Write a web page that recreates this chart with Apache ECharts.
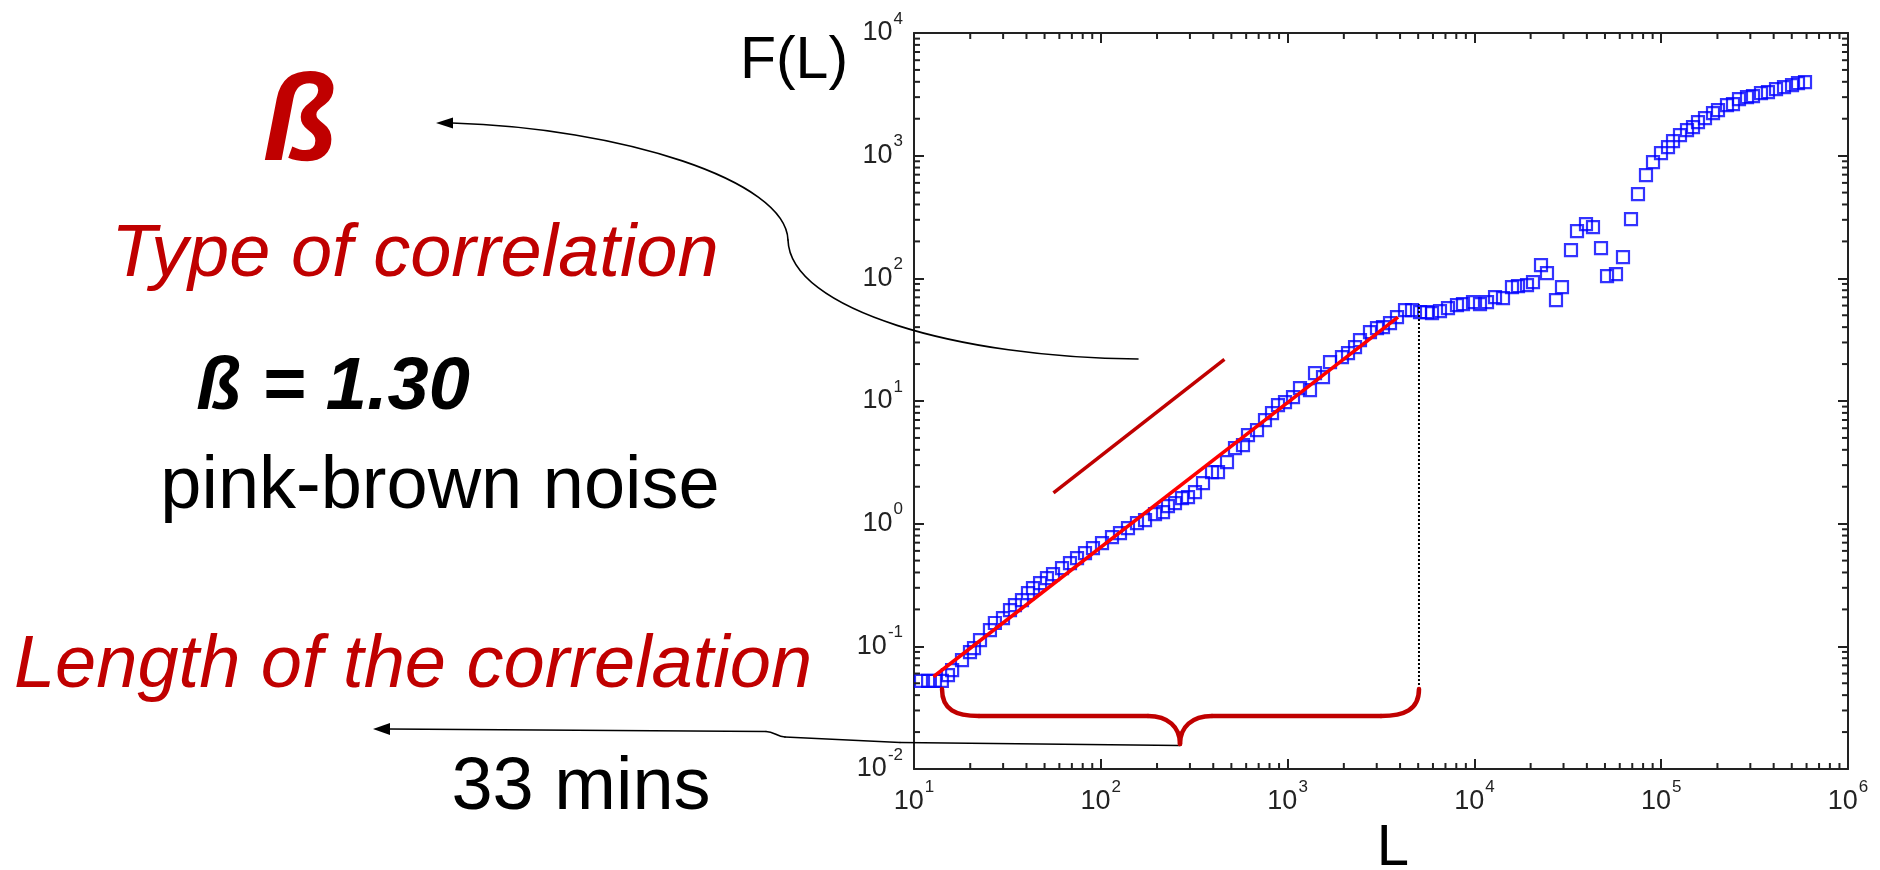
<!DOCTYPE html>
<html><head><meta charset="utf-8">
<script src="https://cdn.jsdelivr.net/npm/echarts@6/dist/echarts.min.js"></script>
<style>html,body{margin:0;padding:0;background:#fff}#c{width:1880px;height:870px}</style>
</head><body><div id="c"></div>
<script>
// ---- data ----
const lengthL = [10.9, 11.9, 12.95, 14.1, 15.2, 16.0, 18.07, 19.94, 20.95, 22.56,
  25.5, 27.1, 29.95, 32.65, 34.7, 37.85, 40.75, 43.35, 47.3, 51.5,
  55.5, 62.0, 68.4, 74.6, 82.3, 90.8, 101.5, 114.8, 126.7, 139.8,
  156.2, 172.5, 195.1, 215.3, 228.9, 249.6, 272.1, 293.0, 319.3, 352.5,
  393.9, 424.1, 473.8, 522.9, 577, 613.8, 685.9, 756.8, 825.1, 888.4,
  968.5, 1069, 1165, 1318, 1402, 1547, 1687, 1955, 2106, 2296,
  2441, 2761, 3010, 3241, 3534, 3852, 4252, 4634, 5115, 5575,
  5931, 6543, 7222, 8067, 8688, 9829, 10715, 11683, 12895, 14227,
  15893, 17115, 19125, 20591, 22727, 24466, 27340, 29436, 32890, 35420,
  39570, 43140, 47620, 51290, 57280, 62440, 68920, 75120, 82900, 90390,
  99750, 108750, 115680, 126070, 137450, 148000, 157400, 171600, 189400, 201400,
  225000, 242300, 260900, 288000, 310000, 342100, 372900, 411800, 454400, 501600,
  539900, 588700];
const fluctF = [0.0522, 0.0522, 0.0522, 0.0522, 0.0583, 0.0641, 0.0773, 0.0898, 0.0968, 0.1125,
  0.1358, 0.155, 0.170, 0.1976, 0.217, 0.2384, 0.272, 0.2987, 0.328, 0.360,
  0.388, 0.4346, 0.4775, 0.5244, 0.5759, 0.6327, 0.695, 0.7776, 0.8384, 0.921,
  1.011, 1.070, 1.197, 1.243, 1.391, 1.472, 1.617, 1.648, 1.809, 2.143,
  2.634, 2.634, 3.177, 4.132, 4.371, 5.272, 5.792, 6.987, 7.968, 9.26,
  9.795, 10.76, 12.74, 12.27, 16.88, 15.66, 20.75, 22.79, 24.57, 27.5,
  31.36, 36.43, 39.27, 40.02, 43.14, 48.29, 55.07, 55.07, 53.04, 53.04,
  52.05, 54.04, 57.16, 60.47, 61.61, 63.97, 61.61, 63.97, 70.29, 68.98,
  84.8, 86.4, 88.0, 93.1, 128.1, 110.3, 66.4, 84.8, 169.8, 242.5,
  276.5, 261.4, 176.3, 104.2, 108.2, 148.9, 303.7, 485.7, 693.6, 885.3,
  1048, 1173, 1313, 1469, 1614, 1707, 1875, 2021, 2220, 2349,
  2579, 2628, 2887, 2998, 3053, 3232, 3292, 3483, 3617, 3754,
  3898, 3972];
const fitLineL = [12.7, 3900];
const fitLineF = [0.0565, 48.3];
const slopeGuideL = [55.8, 459];
const slopeGuideF = [1.78, 21.8];
const crossoverL = [5050, 5050];
const crossoverF = [0.0449, 61.6];
const xTickExps = ['1', '2', '3', '4', '5', '6'];
const yTickExps = ['-2', '-1', '0', '1', '2', '3', '4'];
const minorMult = [2, 3, 4, 5, 6, 7, 8, 9];
const xDecades = [10, 100, 1000, 10000, 100000];
const yDecades = [0.01, 0.1, 1, 10, 100, 1000];

// ---- chart ----
const X_MIN = 10, X_MAX = 1e6, Y_MIN = 0.01, Y_MAX = 1e4;
const AX = '#222';
const FONT = '"Liberation Sans", Arial, Helvetica, sans-serif';
const xMinor = xDecades.flatMap(d => minorMult.map(m => m * d));
const yMinor = yDecades.flatMap(d => minorMult.map(m => m * d));

const richLbl = {
  b: { fontSize: 27, fontFamily: FONT, color: AX, lineHeight: 30 },
  s: { fontSize: 17, fontFamily: FONT, color: AX, padding: [0, 0, 28, 1] }
};
function axisCommon(extra) {
  return Object.assign({
    type: 'log', logBase: 10,
    axisLine: { show: true, onZero: false, lineStyle: { color: AX, width: 2 } },
    axisTick: { show: true, inside: true, length: 10, lineStyle: { color: AX, width: 2 } },
    minorTick: { show: false },
    splitLine: { show: false }
  }, extra);
}
function minorTicks(values, isX) {
  return {
    type: 'custom', xAxisIndex: 0, yAxisIndex: 0, silent: true, clip: false, z: 6,
    data: values.map(v => isX ? [v, 1] : [100, v]),
    renderItem: function (params, api) {
      const len = 6, st = { stroke: AX, lineWidth: 2 };
      if (isX) {
        const v = api.value(0);
        const b = api.coord([v, Y_MIN]), t = api.coord([v, Y_MAX]);
        return { type: 'group', children: [
          { type: 'line', shape: { x1: b[0], y1: b[1], x2: b[0], y2: b[1] - len }, style: st },
          { type: 'line', shape: { x1: t[0], y1: t[1], x2: t[0], y2: t[1] + len }, style: st }
        ] };
      }
      const v = api.value(1);
      const l = api.coord([X_MIN, v]), r = api.coord([X_MAX, v]);
      return { type: 'group', children: [
        { type: 'line', shape: { x1: l[0], y1: l[1], x2: l[0] + len, y2: l[1] }, style: st },
        { type: 'line', shape: { x1: r[0], y1: r[1], x2: r[0] - len, y2: r[1] }, style: st }
      ] };
    }
  };
}
function txt(text, x, y, size, color, style, weight) {
  return { type: 'text', x: x, y: y, silent: true, z: 100,
    style: { text: text, fontSize: size, fontFamily: FONT, fontStyle: style || 'normal',
      fontWeight: weight || 'normal', fill: color, align: 'center', verticalAlign: 'middle' } };
}
function bez(p0, c1, c2, p1, stroke, w) {
  return { type: 'bezierCurve', silent: true, z: 90,
    shape: { x1: p0[0], y1: p0[1], cpx1: c1[0], cpy1: c1[1], cpx2: c2[0], cpy2: c2[1], x2: p1[0], y2: p1[1] },
    style: { fill: null, stroke: stroke, lineWidth: w, lineCap: 'round' } };
}
function seg(p0, p1, stroke, w) {
  return { type: 'line', silent: true, z: 90,
    shape: { x1: p0[0], y1: p0[1], x2: p1[0], y2: p1[1] },
    style: { stroke: stroke, lineWidth: w, lineCap: 'round' } };
}
const RED = '#C00000';
const BK = '#000';

const chart = echarts.init(document.getElementById('c'), null, { renderer: 'canvas' });
chart.setOption({
  animation: false,
  backgroundColor: '#ffffff',
  grid: { left: 914, top: 33, width: 934, height: 736, outerBoundsMode: 'none', containLabel: false },
  xAxis: [
    axisCommon({ position: 'bottom', min: X_MIN, max: X_MAX, splitNumber: 5,
      axisLabel: { show: true, margin: 10, showMinLabel: true, showMaxLabel: true,
        formatter: v => '{b|10}{s|' + xTickExps[Math.round(Math.log10(v)) - 1] + '}', rich: richLbl } }),
    axisCommon({ position: 'top', min: X_MIN, max: X_MAX, splitNumber: 5, axisLabel: { show: false } })
  ],
  yAxis: [
    axisCommon({ position: 'left', min: Y_MIN, max: Y_MAX, splitNumber: 6,
      axisLabel: { show: true, margin: 11, showMinLabel: true, showMaxLabel: true,
        formatter: v => '{b|10}{s|' + yTickExps[Math.round(Math.log10(v)) + 2] + '}', rich: richLbl } }),
    axisCommon({ position: 'right', min: Y_MIN, max: Y_MAX, splitNumber: 6, axisLabel: { show: false } })
  ],
  series: [
    minorTicks(xMinor, true),
    minorTicks(yMinor, false),
    {
      type: 'scatter', name: 'F(L)', z: 3,
      data: lengthL.map((l, i) => [l, fluctF[i]]),
      symbol: 'rect', symbolSize: 12,
      itemStyle: { color: 'rgba(0,0,0,0)', borderColor: '#0000FF', borderWidth: 2.2 }
    },
    {
      type: 'line', name: 'fit', z: 4, symbol: 'none',
      data: fitLineL.map((l, i) => [l, fitLineF[i]]),
      lineStyle: { color: '#FF0000', width: 3.5 }
    },
    {
      type: 'line', name: 'slope', z: 4, symbol: 'none',
      data: slopeGuideL.map((l, i) => [l, slopeGuideF[i]]),
      lineStyle: { color: RED, width: 3.5 }
    },
    {
      type: 'line', name: 'crossover', z: 4, symbol: 'none',
      data: crossoverL.map((l, i) => [l, crossoverF[i]]),
      lineStyle: { color: '#000', width: 2, type: [2, 2] }
    }
  ],
  graphic: [
    txt('F(L)', 794, 62, 59, BK),
    txt('L', 1393, 849, 58, BK),
    txt('ß', 300, 126, 122, RED, 'italic', 'bold'),
    txt('Type of correlation', 415, 255, 74, RED, 'italic'),
    txt('ß = 1.30', 333, 389, 74, BK, 'italic', 'bold'),
    txt('pink-brown noise', 440, 488, 74, BK),
    txt('Length of the correlation', 413, 666, 74, RED, 'italic'),
    txt('33 mins', 581, 789, 74, BK),
    // curved arrow to the exponent
    bez([1138, 359], [960, 358], [790, 310], [788, 240], BK, 1.6),
    bez([788, 240], [786, 180], [620, 128], [452, 123], BK, 1.6),
    { type: 'polygon', silent: true, z: 90,
      shape: { points: [[436, 123], [453, 117.5], [453, 128.5]] }, style: { fill: BK } },
    // arrow to the correlation length
    seg([1180, 745.5], [900, 742.5], BK, 1.6),
    seg([900, 742.5], [785, 737], BK, 1.6),
    bez([785, 737], [777, 736.5], [774, 731.5], [766, 731.5], BK, 1.6),
    seg([766, 731.5], [388, 729], BK, 1.6),
    { type: 'polygon', silent: true, z: 90,
      shape: { points: [[373, 729], [390, 723], [390, 735]] }, style: { fill: BK } },
    // brace
    bez([942, 689], [942, 710], [956, 716], [979, 716], RED, 4.5),
    seg([979, 716], [1148, 716], RED, 4.5),
    bez([1148, 716], [1168, 716], [1180, 727], [1180, 744], RED, 4.5),
    bez([1180, 744], [1180, 727], [1192, 716], [1212, 716], RED, 4.5),
    seg([1212, 716], [1381, 716], RED, 4.5),
    bez([1381, 716], [1404, 716], [1419, 710], [1419, 689], RED, 4.5)
  ]
});
</script></body></html>
